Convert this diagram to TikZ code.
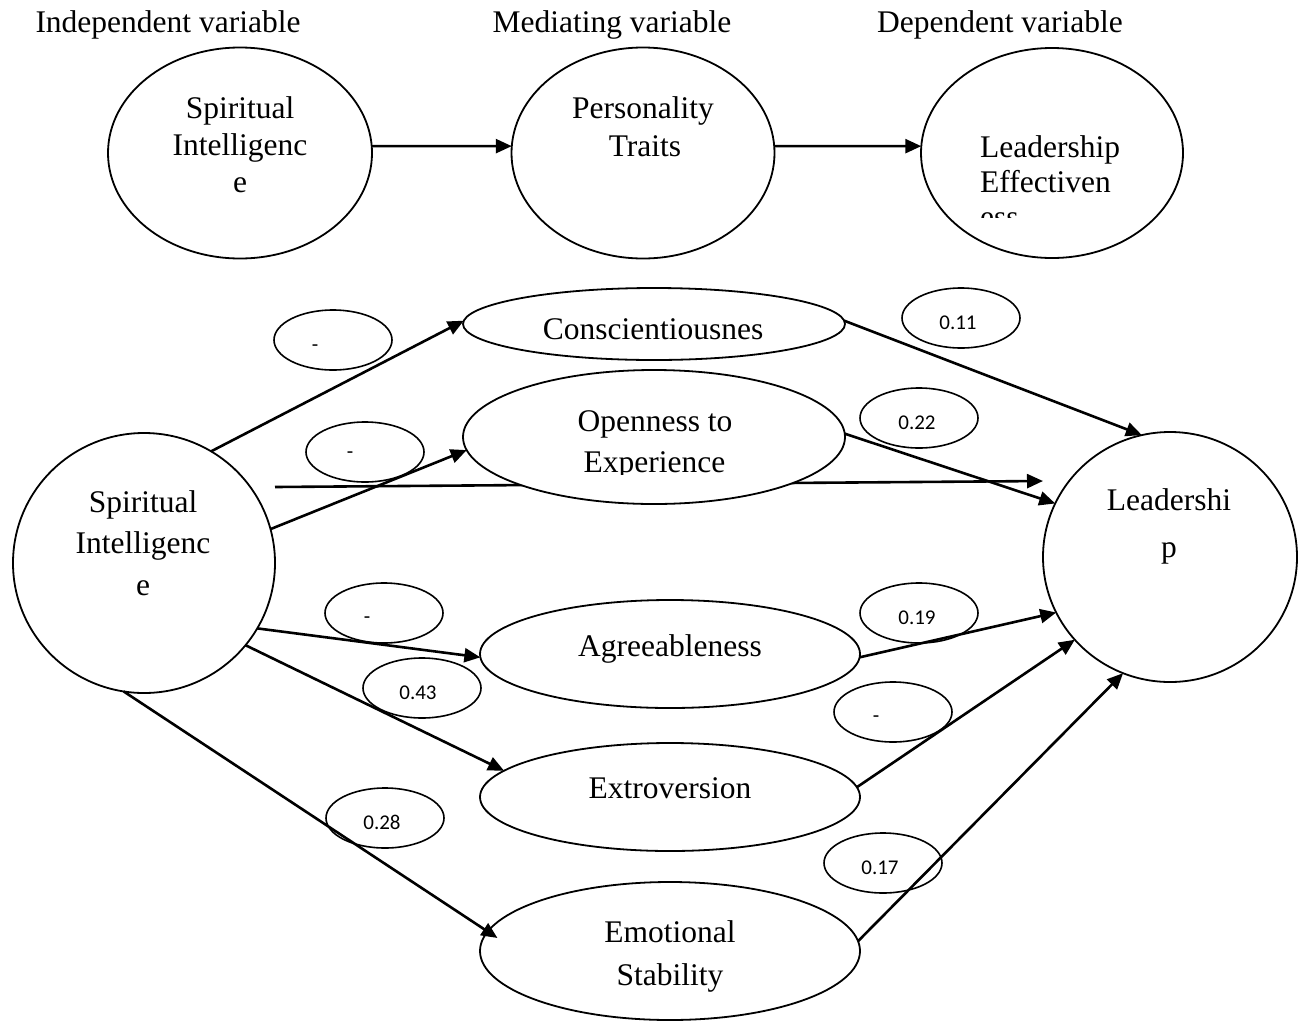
\documentclass[tikz,border=0pt]{standalone}
\usepackage{fontspec}
\setmainfont{Liberation Serif}
\newfontfamily\labfont{Carlito}
\usetikzlibrary{shapes.geometric,arrows.meta}
\begin{document}
\begin{tikzpicture}[x=1pt,y=-1pt,
  ell/.style={draw, ellipse, line width=1.8pt, inner sep=0pt, outer sep=0pt},
  big/.style={ell, fill=white},
  lab/.style={ell, line width=1.6pt, minimum width=118pt, minimum height=60pt},
  txt/.style={inner sep=0pt, anchor=base, font=\fontsize{31.5}{37}\selectfont},
  txtw/.style={txt, anchor=base west},
  ltxt/.style={inner sep=0pt, anchor=base, font=\labfont\fontsize{21}{25}\selectfont},
  conn/.style={line width=2.6pt, -{Triangle[length=16pt,width=14pt]}},
]
\useasboundingbox (0,0) rectangle (1298,1023);

% titles
\node[txt] (t1) at (168,32) {Independent variable};
\node[txt] (t2) at (612,32) {Mediating variable};
\node[txt] (t3) at (1000,32) {Dependent variable};

% top row
\node[big, minimum width=264pt, minimum height=211pt] (SIt) at (240,153) {};
\node[big, minimum width=263pt, minimum height=211pt] (PT) at (643,153) {};
\node[big, minimum width=262pt, minimum height=210pt] (LE) at (1052,153) {};
\draw[conn] (SIt.3) -- (PT.177);
\draw[conn] (PT.3) -- (LE.177);

\node[txt] (sit1) at (240,118) {Spiritual};
\node[txt] (sit2) at (240,155) {Intelligenc};
\node[txt] (sit3) at (240,192) {e};
\node[txt] (pt1) at (643,118) {Personality};
\node[txt] (pt2) at (645,156) {Traits};
\node[txtw] (le1) at (980,157) {Leadership};
\node[txtw] (le2) at (980,192) {Effectiven};
\begin{scope}
  \clip (960,195) rectangle (1140,217);
  \node[txtw] (le3) at (980,227) {ess};
\end{scope}

% label ellipses
\node[lab] (l1) at (333,340) {};
\node[lab] (l2) at (365,452) {};
\node[lab] (l3) at (961,318) {};
\node[lab] (l4) at (919,418) {};
\node[lab] (l5) at (384,613) {};
\node[lab] (l6) at (422,688) {};
\node[lab] (l7) at (919,613) {};
\node[lab] (l8) at (893,712) {};
\node[lab] (l9) at (385,818) {};
\node[lab] (l10) at (883,863) {};
\node[ltxt] (lt1) at (315,351) {-};
\node[ltxt] (lt2) at (350,458) {-};
\node[ltxt] (lt3) at (958,329) {0.11};
\node[ltxt] (lt4) at (917,429) {0.22};
\node[ltxt] (lt5) at (367,623) {-};
\node[ltxt] (lt6) at (418,699) {0.43};
\node[ltxt] (lt7) at (917,624) {0.19};
\node[ltxt] (lt8) at (876,722) {-};
\node[ltxt] (lt9) at (382,829) {0.28};
\node[ltxt] (lt10) at (880,874) {0.17};

% bottom model
\node[big, minimum width=262pt, minimum height=260pt] (SI) at (144,563) {};
\node[big, minimum width=254pt, minimum height=250pt] (L) at (1170,557) {};
\draw[conn] ([yshift=76pt]SI.east) -- ([yshift=76pt]L.west);

\node[big, minimum width=382pt, minimum height=72pt] (Co) at (654,324) {};
\node[big, minimum width=382pt, minimum height=134pt] (Op) at (654,437) {};
\node[big, minimum width=380pt, minimum height=108pt] (Ag) at (670,654) {};
\node[big, minimum width=380pt, minimum height=108pt] (Ex) at (670,797) {};
\node[big, minimum width=380pt, minimum height=138pt] (Em) at (670,951) {};

\node[txt] (si1) at (143,512) {Spiritual};
\node[txt] (si2) at (143,553) {Intelligenc};
\node[txt] (si3) at (143,595) {e};
\node[txt] (ld1) at (1169,510) {Leadershi};
\node[txt] (ld2) at (1169,557) {p};
\node[txt] (co1) at (653,339) {Conscientiousnes};
\node[txt] (op1) at (655,431) {Openness to};
\begin{scope}
  \clip (560,440) rectangle (750,474);
  \node[txt] (op2) at (654.5,472) {Experience};
\end{scope}
\node[txt] (ag1) at (670,656) {Agreeableness};
\node[txt] (ex1) at (670,798) {Extroversion};
\node[txt] (em1) at (670,942) {Emotional};
\node[txt] (em2) at (670,985) {Stability};

% connectors from Spiritual Intelligence
\draw[conn] (SI.59.4) -- (Co.179);
\draw[conn] (SI.15) -- (Op.184.5);
\draw[conn] (SI.330.7) -- (Ag.181);
\draw[conn] (SI.321.8) -- (Ex.171.7);
\draw[conn] (SI.261.7) -- ([xshift=14pt]Em.176);

% connectors to Leadership
\draw[conn] (Co.1) -- (L.103.6);
\draw[conn] (Op.1) -- (L.155.3);
\draw[conn] (Ag.359) -- (L.206.6);
\draw[conn] (Ex.3) -- (L.221.9);
\draw[conn] (Em.3) -- (L.248.2);
\end{tikzpicture}
\end{document}
